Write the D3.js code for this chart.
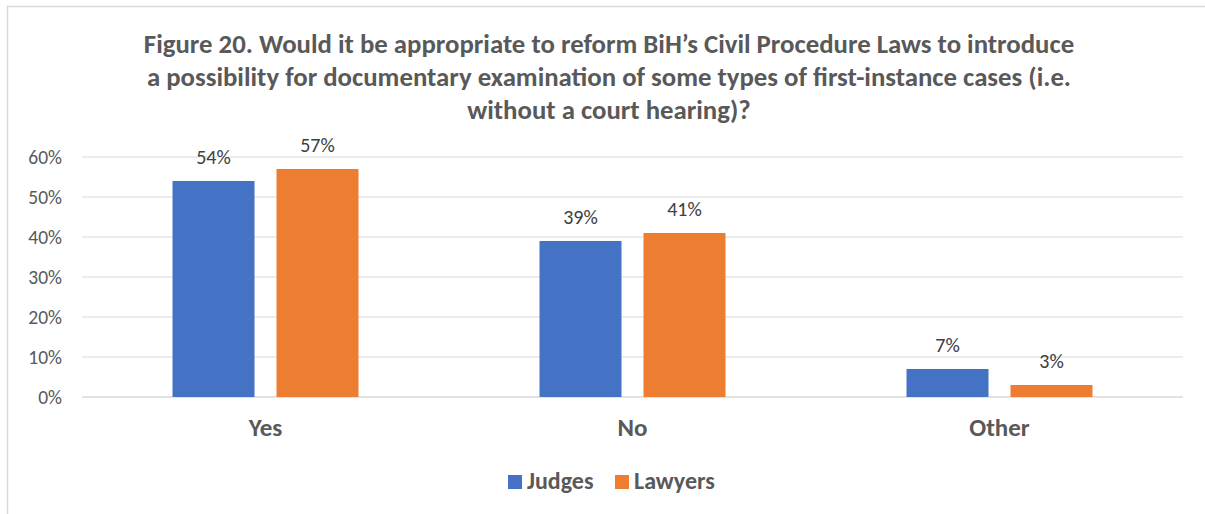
<!DOCTYPE html>
<html>
<head>
<meta charset="utf-8">
<script src="https://cdn.jsdelivr.net/npm/d3@7"></script>
<style>
  html, body { margin: 0; padding: 0; background: #fff; }
  svg { display: block; }
  text { font-family: Carlito, Calibri, "Open Sans", "Noto Sans", sans-serif; }
</style>
</head>
<body>
<svg id="chart" width="1205" height="514"></svg>
<script>
// Survey answers, share of respondents (percent)
const categories = ["Yes", "No", "Other"];
const seriesNames = ["Judges", "Lawyers"];
const judges = [54, 39, 7];
const lawyers = [57, 41, 3];
const yTicks = [0, 10, 20, 30, 40, 50, 60];
const titleLines = [
  "Figure 20. Would it be appropriate to reform BiH\u2019s Civil Procedure Laws to introduce",
  "a possibility for documentary examination of some types of first-instance cases (i.e.",
  "without a court hearing)?"
];

const FONT = 'Carlito, Calibri, "Open Sans", "Noto Sans", sans-serif';
const colors = { Judges: "#4472C4", Lawyers: "#ED7D31" };
const svg = d3.select("#chart");

// chart frame
svg.append("rect")
  .attr("x", 7.5).attr("y", 6.5)
  .attr("width", 1300).attr("height", 600)
  .attr("fill", "none").attr("stroke", "#d9d9d9").attr("stroke-width", 1.5);

// title
svg.append("g").selectAll("text").data(titleLines).join("text")
  .attr("x", 609).attr("y", (d, i) => 53 + i * 33)
  .attr("text-anchor", "middle")
  .attr("font-size", 26.8).attr("font-weight", "bold")
  .attr("fill", "#595959")
  .text(d => d);

const plot = { left: 82, right: 1183, top: 157, bottom: 397 };

const x = d3.scaleBand().domain(categories)
  .range([plot.left, plot.right]).paddingInner(0).paddingOuter(0);
const y = d3.scaleLinear().domain([0, 60]).range([plot.bottom, plot.top]);

// two bars per category, centred in the band with a small gap between them
const inner = d3.scaleBand().domain(seriesNames)
  .range([x.bandwidth() * 0.2466, x.bandwidth() * 0.7534])
  .paddingInner(0.2115).paddingOuter(0);

// gridlines
svg.append("g").selectAll("line").data(yTicks).join("line")
  .attr("x1", plot.left).attr("x2", plot.right)
  .attr("y1", d => y(d)).attr("y2", d => y(d))
  .attr("stroke", "#d9d9d9").attr("stroke-width", d => d === 0 ? 1.5 : 1.2);

// y axis labels
const yAxis = d3.axisLeft(y).tickValues(yTicks).tickFormat(d => d + "%").tickSize(0).tickPadding(0);
const yg = svg.append("g").attr("transform", `translate(62,0)`).call(yAxis);
yg.select(".domain").remove();
yg.selectAll("text")
  .attr("font-size", 19.5).attr("fill", "#595959").attr("font-family", FONT);

// x axis labels
const xAxis = d3.axisBottom(x).tickSize(0).tickPadding(0);
const xg = svg.append("g").attr("transform", `translate(0,${plot.bottom})`).call(xAxis);
xg.select(".domain").remove();
xg.selectAll("text")
  .attr("dy", null).attr("y", 39)
  .attr("font-size", 25).attr("font-weight", "bold").attr("fill", "#595959")
  .attr("font-family", FONT);

// bars and value labels
const rows = [];
categories.forEach((c, i) => {
  rows.push({ cat: c, series: "Judges", value: judges[i] });
  rows.push({ cat: c, series: "Lawyers", value: lawyers[i] });
});

svg.append("g").selectAll("rect").data(rows).join("rect")
  .attr("x", d => x(d.cat) + inner(d.series))
  .attr("width", inner.bandwidth())
  .attr("y", d => y(d.value))
  .attr("height", d => y(0) - y(d.value))
  .attr("fill", d => colors[d.series]);

svg.append("g").selectAll("text").data(rows).join("text")
  .attr("x", d => x(d.cat) + inner(d.series) + inner.bandwidth() / 2)
  .attr("y", d => y(d.value) - 17)
  .attr("text-anchor", "middle")
  .attr("font-size", 20).attr("fill", "#404040")
  .text(d => d.value + "%");

// legend
const legend = svg.append("g");
const legendItems = [
  { name: "Judges", x: 508 },
  { name: "Lawyers", x: 615 }
];
const li = legend.selectAll("g").data(legendItems).join("g")
  .attr("transform", d => `translate(${d.x},475)`);
li.append("rect").attr("width", 14).attr("height", 14).attr("fill", d => colors[d.name]);
li.append("text").attr("x", 19).attr("y", 13.5)
  .attr("font-size", 24).attr("font-weight", "bold").attr("fill", "#595959")
  .text(d => d.name);
</script>
</body>
</html>
